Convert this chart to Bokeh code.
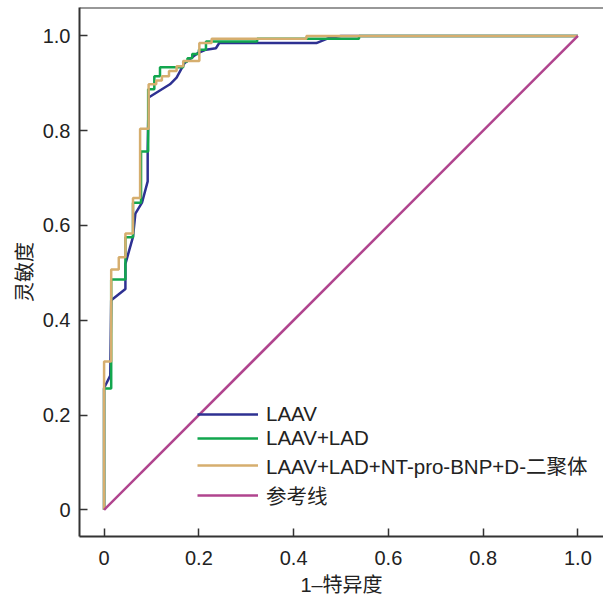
from bokeh.plotting import figure
from bokeh.models import FixedTicker, Span, Legend, LegendItem, Range1d
from bokeh.embed import file_html
from bokeh.resources import INLINE

# ---- data ----
laav_x = [0, 0, 0.013, 0.015, 0.045, 0.045, 0.061, 0.066, 0.080, 0.092, 0.092, 0.094,
          0.139, 0.153, 0.170, 0.198, 0.215, 0.236, 0.243, 0.448, 0.475, 0.50, 1.0]
laav_y = [0, 0.257, 0.283, 0.442, 0.466, 0.519, 0.576, 0.625, 0.648, 0.693, 0.762, 0.870,
          0.898, 0.912, 0.943, 0.964, 0.971, 0.974, 0.985, 0.985, 0.996, 1.0, 1.0]

lad_x = [0, 0, 0.015, 0.015, 0.045, 0.045, 0.061, 0.061, 0.078, 0.078, 0.093, 0.093,
         0.106, 0.106, 0.118, 0.118, 0.167, 0.167, 0.176, 0.176, 0.186, 0.186, 0.200,
         0.200, 0.215, 0.215, 0.323, 0.323, 0.538, 0.538, 1.0]
lad_y = [0, 0.256, 0.256, 0.486, 0.486, 0.575, 0.575, 0.648, 0.648, 0.756, 0.756, 0.8875,
         0.8875, 0.915, 0.915, 0.934, 0.934, 0.946, 0.946, 0.953, 0.953, 0.962, 0.962,
         0.971, 0.971, 0.988, 0.988, 0.994, 0.994, 1.0, 1.0]

full_x = [0, 0, 0.015, 0.015, 0.031, 0.031, 0.045, 0.045, 0.061, 0.061, 0.076, 0.076,
          0.094, 0.094, 0.110, 0.110, 0.122, 0.122, 0.137, 0.137, 0.153, 0.153, 0.167,
          0.167, 0.201, 0.201, 0.227, 0.227, 0.427, 0.427, 1.0]
full_y = [0, 0.313, 0.313, 0.507, 0.507, 0.533, 0.533, 0.583, 0.583, 0.658, 0.658, 0.804,
          0.804, 0.898, 0.898, 0.906, 0.906, 0.915, 0.915, 0.926, 0.926, 0.936, 0.936,
          0.947, 0.947, 0.985, 0.985, 0.994, 0.994, 1.0, 1.0]

ref_x = [0, 1]
ref_y = [0, 1]

series_names = ["LAAV", "LAAV+LAD", "LAAV+LAD+NT-pro-BNP+D-二聚体", "参考线"]
series_colors = ["#2e3192", "#12a64e", "#d6ae6e", "#b0448e"]

x_ticks = [0, 0.2, 0.4, 0.6, 0.8, 1.0]
x_tick_labels = ["0", "0.2", "0.4", "0.6", "0.8", "1.0"]
y_ticks = [0, 0.2, 0.4, 0.6, 0.8, 1.0]
y_tick_labels = ["0", "0.2", "0.4", "0.6", "0.8", "1.0"]

FONT = "Liberation Sans, Noto Sans CJK SC"

y_end = 1.060
p = figure(width=603, height=598, output_backend="svg", toolbar_location=None,
           x_range=Range1d(-0.0519, 1.054), y_range=Range1d(-0.0564, y_end),
           min_border_left=79, min_border_right=0, min_border_top=7, min_border_bottom=62)
p.outline_line_color = None
p.grid.grid_line_color = None
p.background_fill_color = "white"

renderers = []
for xs, ys, c in [(laav_x, laav_y, series_colors[0]), (lad_x, lad_y, series_colors[1]),
                  (full_x, full_y, series_colors[2]), (ref_x, ref_y, series_colors[3])]:
    r = p.line(xs, ys, line_color=c, line_width=2.5)
    renderers.append(r)

legend = Legend(items=[LegendItem(label=n, renderers=[r]) for n, r in zip(series_names, renderers)],
                location=(118, 26), border_line_color=None, background_fill_alpha=0,
                padding=0, margin=0, spacing=0, glyph_width=61, glyph_height=24,
                label_height=24, label_standoff=8,
                label_text_font=FONT, label_text_font_size="20.5px", label_text_color="#222222")
p.add_layout(legend)

top = Span(location=y_end, dimension="width", line_color="#333333", line_width=2)
p.add_layout(top)

for ax, ticks, labels in [(p.xaxis[0], x_ticks, x_tick_labels), (p.yaxis[0], y_ticks, y_tick_labels)]:
    ax.ticker = FixedTicker(ticks=ticks)
    ax.major_label_overrides = {t: l for t, l in zip(ticks, labels)}
    ax.minor_tick_line_color = None
    ax.major_tick_in = 8
    ax.major_tick_out = 0
    ax.major_tick_line_color = "#333333"
    ax.major_tick_line_width = 1.5
    ax.axis_line_color = "#333333"
    ax.axis_line_width = 2
    ax.major_label_text_font = FONT
    ax.major_label_text_font_size = "20px"
    ax.major_label_text_color = "#222222"
    ax.axis_label_text_font = FONT
    ax.axis_label_text_font_size = "20px"
    ax.axis_label_text_font_style = "normal"
    ax.axis_label_text_color = "#222222"

p.xaxis.axis_label = "1–特异度"
p.yaxis.axis_label = "灵敏度"
p.xaxis.major_label_standoff = 14
p.xaxis.axis_label_standoff = 6
p.yaxis.major_label_standoff = 9
p.yaxis.axis_label_standoff = 4

open("out.html", "w").write(file_html(p, INLINE))
